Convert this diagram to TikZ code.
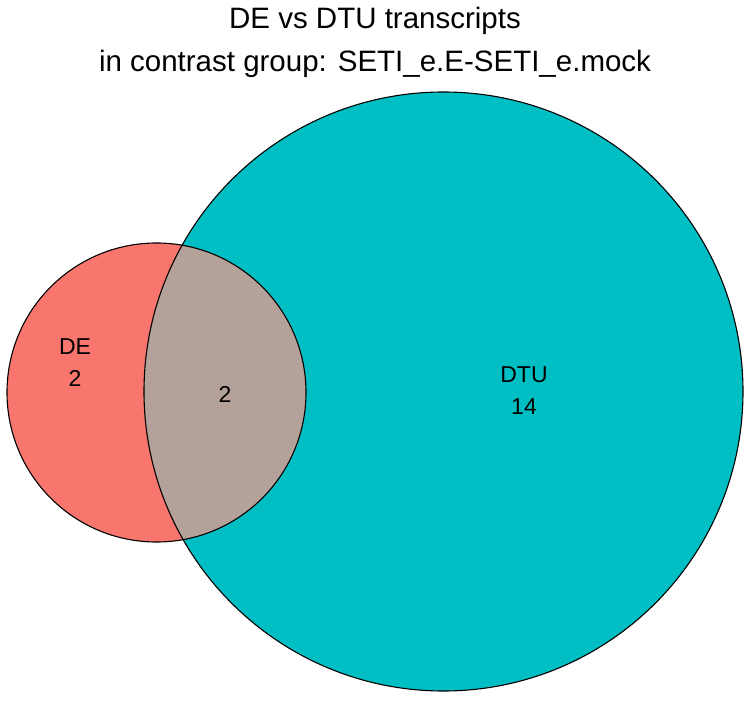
\documentclass[tikz,border=0pt]{standalone}
\usepackage{fontspec}
\setmainfont{Liberation Sans}
\definecolor{decol}{HTML}{F8766D}
\definecolor{dtucol}{HTML}{00BFC4}
\definecolor{bothcol}{HTML}{B4A199}
\begin{document}
\begin{tikzpicture}[x=1pt,y=1pt]
\tikzstyle{every node}+=[inner sep=0pt]
\tikzstyle{title}=[anchor=base,font=\fontsize{29.5}{34}\selectfont]
\tikzstyle{setlabel}=[anchor=base,font=\fontsize{23}{27}\selectfont]
\useasboundingbox (0,0) rectangle (750,705);
\coordinate (cde) at (156.5,312.5);
\coordinate (cdtu) at (443.5,313.5);
% set areas
\fill [dtucol] (cdtu) circle (299.5);
\fill [decol] (cde) circle (149.5);
\begin{scope}
\clip (cdtu) circle (299.5);
\fill [bothcol] (cde) circle (149.5);
\end{scope}
\draw [black,line width=1.1pt] (cde) circle (149.5);
\draw [black,line width=1.1pt] (cdtu) circle (299.5);
% title
\node [title] (head) at (375,676) {DE vs DTU transcripts};
\node [title] (subhead) at (375,633) {in contrast group: SETI\_e.E-SETI\_e.mock};
% counts
\node [setlabel] (deName) at (75,350.5) {DE};
\node [setlabel] (deNum) at (75,318.5) {2};
\node [setlabel] (bothNum) at (225,302) {2};
\node [setlabel] (dtuName) at (524,322.5) {DTU};
\node [setlabel] (dtuNum) at (524,290.5) {14};
\end{tikzpicture}
\end{document}
